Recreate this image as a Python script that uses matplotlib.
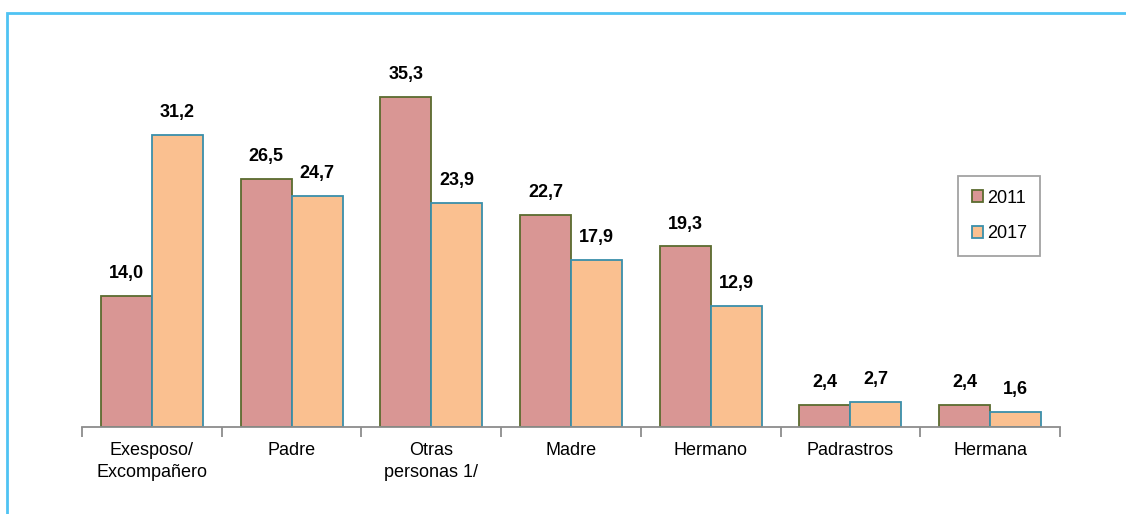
import matplotlib
matplotlib.use("Agg")
import matplotlib.pyplot as plt
import numpy as np
from matplotlib.patches import Rectangle

plt.rcParams['font.family'] = ['Liberation Sans', 'DejaVu Sans']

categories = ["Exesposo/\nExcompañero", "Padre", "Otras\npersonas 1/", "Madre",
              "Hermano", "Padrastros", "Hermana"]
v2011 = [14.0, 26.5, 35.3, 22.7, 19.3, 2.4, 2.4]
v2017 = [31.2, 24.7, 23.9, 17.9, 12.9, 2.7, 1.6]
series_labels = ["2011", "2017"]

fig = plt.figure(figsize=(11.26, 5.14), dpi=100)
fig.patch.set_facecolor('white')

# outer light-blue frame (top and left visible)
fig.add_artist(Rectangle((6.5/1126, -0.1), 1.2, 1 - 12.5/514 + 0.1, transform=fig.transFigure,
                         fill=False, edgecolor='#4FC3F3', linewidth=2))

ax_h = 0.73
ax = fig.add_axes([82/1126, 1 - 427/514, (1060-82)/1126, ax_h])
x = np.arange(len(categories))
w = 0.365
b1 = ax.bar(x - w/2, v2011, w, color='#D99694', edgecolor='#5B6B2F', linewidth=1.3, label=series_labels[0])
b2 = ax.bar(x + w/2, v2017, w, color='#FAC090', edgecolor='#3A8FAA', linewidth=1.3, label=series_labels[1])

def fmt(v):
    return f"{v:.1f}".replace('.', ',')

for bars, vals in ((b1, v2011), (b2, v2017)):
    for r, v in zip(bars, vals):
        ax.annotate(fmt(v), (r.get_x() + r.get_width()/2, v), xytext=(0, 10),
                    textcoords='offset points', ha='center', va='bottom',
                    fontsize=13, fontweight='bold', color='black')

ax.set_xlim(-0.5, len(categories) - 0.5)
ax.set_ylim(0, 40.1)
for s in ['top', 'right', 'left']:
    ax.spines[s].set_visible(False)
ax.spines['bottom'].set_color('#8C8C8C')
ax.spines['bottom'].set_linewidth(1.3)
ax.set_yticks([])
ax.set_xticks(np.arange(-0.5, len(categories)), minor=False)
ax.set_xticklabels([])
ax.tick_params(axis='x', which='major', length=7, color='#8C8C8C', width=1.3, direction='out')
ax.set_xticks(x, minor=True)
ax.set_xticklabels(categories, minor=True, fontsize=13, linespacing=1.35)
ax.tick_params(axis='x', which='minor', length=0, pad=11)

axw_px = 1060 - 82
axh_px = ax_h * 514
leg = ax.legend(loc='upper left', bbox_to_anchor=((958-82)/axw_px, (427-176)/axh_px),
                frameon=True, fancybox=False, edgecolor='#8C8C8C', fontsize=13,
                handlelength=0.65, handleheight=0.65, handletextpad=0.2, labelspacing=1.05,
                borderpad=0.75, borderaxespad=0)
leg.get_frame().set_linewidth(1.3)

fig.savefig("out.png", dpi=100, facecolor='white')
